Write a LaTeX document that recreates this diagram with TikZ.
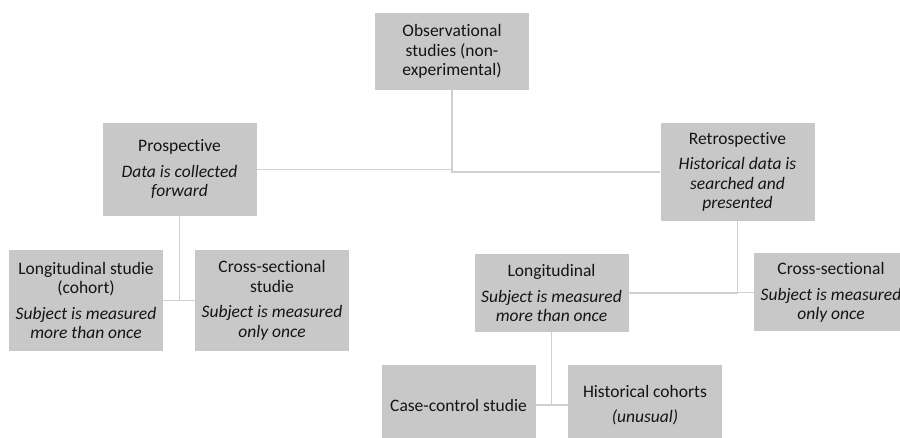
\documentclass[tikz,border=0pt]{standalone}
\usepackage{fontspec}
\setmainfont{Carlito}[Ligatures=NoCommon]
\usepackage{tikz}

\definecolor{boxgray}{RGB}{200,200,200}
\definecolor{linegray}{RGB}{208,208,208}
\definecolor{textgray}{RGB}{20,20,20}

\begin{document}
\begin{tikzpicture}[x=1pt, y=-1pt,
    box/.style={fill=boxgray, text=textgray, align=center, inner sep=0pt,
        minimum width=154pt, font=\fontsize{17.5}{19.5}\selectfont},
    link/.style={draw=linegray, line width=1.3pt}]
    \useasboundingbox (0,0) rectangle (900,438);
    \clip (0,0) rectangle (900,438);

    % Nodes
    \node[box, minimum height=77pt] (obs) at (452,51.5) {Observational\\studies (non-\\experimental)};
    \node[box, minimum height=93pt] (pro) at (179.5,169.5) {Prospective\\[6pt]\textit{Data is collected}\\\textit{forward}};
    \node[box, minimum height=98pt] (retro) at (737.5,172) {Retrospective\\[6pt]\textit{Historical data is}\\\textit{searched and}\\\textit{presented}};
    \node[box, minimum height=101pt] (lonA) at (86,300.5) {Longitudinal studie\\(cohort)\\[6pt]\textit{Subject is measured}\\\textit{more than once}};
    \node[box, minimum height=101pt] (crossA) at (272,300.5) {Cross-sectional\\studie\\[6pt]\textit{Subject is measured}\\\textit{only once}};
    \node[box, minimum height=78pt] (lonB) at (551.5,293) {Longitudinal\\[6pt]\textit{Subject is measured}\\\textit{more than once}};
    \node[box, minimum height=78pt] (crossB) at (831,292.5) {Cross-sectional\\[6pt]\textit{Subject is measured}\\\textit{only once}};
    \node[box, minimum height=80pt] (case) at (458.5,405) {Case-control studie};
    \node[box, minimum height=80pt] (hist) at (645,405) {Historical cohorts\\[6pt]\textit{(unusual)}};

    % Edges
    \draw[link] (obs.south) |- (pro.east);
    \draw[link] (obs.south) |- (retro.west);
    \draw[link] (pro.south) |- (lonA.east);
    \draw[link] (pro.south) |- (crossA.west);
    \draw[link] (retro.south) |- (lonB.east);
    \draw[link] (retro.south) |- (crossB.west);
    \draw[link] (lonB.south) |- (case.east);
    \draw[link] (lonB.south) |- (hist.west);
\end{tikzpicture}
\end{document}
